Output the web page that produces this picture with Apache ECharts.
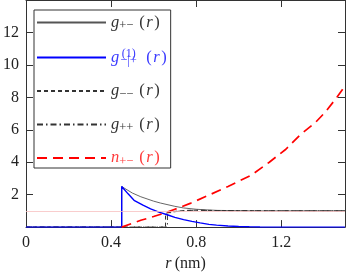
<!DOCTYPE html>
<html><head><meta charset="utf-8">
<script src="https://cdn.jsdelivr.net/npm/echarts@6/dist/echarts.min.js"></script>
<style>html,body{margin:0;padding:0;background:#fff}#c{width:346px;height:277px}</style>
</head><body><div id="c"></div>
<script>
// ---- data ----
const xTickLabels = ['0', '0.4', '0.8', '1.2'];
const yTickLabels = ['2', '4', '6', '8', '10', '12'];
const refLevel = 1;

const gPM_r = [0, 0.45, 0.45, 0.5, 0.54, 0.6, 0.633, 0.7, 0.741, 0.8, 0.85, 0.9, 1.0, 1.1, 1.5];
const gPM_v = [0, 0, 2.5, 2.1, 1.87, 1.6, 1.48, 1.28, 1.18, 1.1, 1.06, 1.03, 1.01, 1.0, 1.0];

const g1_r = [0, 0.45, 0.45, 0.48, 0.508, 0.55, 0.586, 0.625, 0.664, 0.7, 0.741, 0.78, 0.819, 0.86, 0.896, 0.95, 1.0, 1.05, 1.1, 1.2, 1.5];
const g1_v = [0, 0, 2.5, 2.05, 1.65, 1.35, 1.12, 0.92, 0.76, 0.6, 0.46, 0.35, 0.26, 0.17, 0.12, 0.07, 0.04, 0.02, 0.01, 0, 0];

const gMM_r = [0, 0.656, 0.656, 0.7, 0.75, 0.8, 0.9, 1.0, 1.2, 1.5];
const gMM_v = [0, 0, 0.85, 0.97, 1.03, 1.04, 1.02, 1.01, 1.0, 1.0];

const gPP_r = [0, 0.665, 0.665, 0.7, 0.75, 0.8, 0.9, 1.0, 1.2, 1.5];
const gPP_v = [0, 0, 0.85, 0.95, 1.02, 1.04, 1.02, 1.01, 1.0, 1.0];

const nPM_r = [0.45, 0.54, 0.6, 0.656, 0.7, 0.772, 0.865, 0.95, 1.059, 1.144, 1.222, 1.29, 1.361, 1.408, 1.462, 1.5];
const nPM_v = [0, 0.42, 0.65, 0.88, 1.1, 1.46, 2.0, 2.5, 3.2, 4.0, 4.8, 5.7, 6.45, 7.1, 8.0, 8.7];

const zip = (a, b) => a.map((x, i) => [x, b[i]]);

const F = '"Liberation Serif", "DejaVu Serif", serif';
function styles(k, c) {
  const o = {};
  o['m' + k] = {fontFamily: F, fontStyle: 'italic', fontSize: 16.5, color: c, lineHeight: 20};
  o['r' + k] = {fontFamily: F, fontStyle: 'italic', fontSize: 16.5, color: c, lineHeight: 20, padding: [0, 1.5, 0, 1.5]};
  o['p' + k] = {fontFamily: F, fontSize: 16.5, color: c, lineHeight: 20};
  o['q' + k] = {fontFamily: F, fontSize: 16.5, color: c, lineHeight: 20, padding: [0, 0, 0, 6]};
  o['s' + k] = {fontFamily: F, fontSize: 12.5, color: c, lineHeight: 10, verticalAlign: 'bottom'};
  o['t' + k] = {fontFamily: F, fontSize: 12.5, color: c, lineHeight: 8, verticalAlign: 'bottom', width: 20};
  o['u' + k] = {fontFamily: F, fontSize: 12, color: c, lineHeight: 7, verticalAlign: 'top', width: 1};
  return o;
}
const rich = Object.assign({}, styles('k', '#333'), styles('b', '#3a3aff'), styles('r', '#ff3a3a'));
const tail = k => `{q${k}|(}{r${k}|r}{p${k}|)}`;
const labels = {
  'g+-': `{mk|g}{sk|+\u2212}` + tail('k'),
  'g1': `{mb|g}{ub|\u2009(1)}{tb|\u2212|+}` + tail('b'),
  'g--': `{mk|g}{sk|\u2212\u2212}` + tail('k'),
  'g++': `{mk|g}{sk|++}` + tail('k'),
  'n+-': `{mr|n}{sr|+\u2212}` + tail('r')
};

const axisCommon = {
  type: 'value',
  axisLine: {show: true, onZero: false, lineStyle: {color: '#333', width: 1}},
  axisTick: {show: true, inside: true, length: 7, lineStyle: {color: '#333', width: 1}},
  splitLine: {show: false}
};

const chart = echarts.init(document.getElementById('c'), null, {renderer: 'canvas'});
chart.setOption({
  animation: false,
  grid: {left: 24, right: 1, top: 0, bottom: 45},
  legend: {
    show: true, orient: 'vertical', left: 34, top: 10,
    padding: [4, 4, 0, 2], itemWidth: 69, itemHeight: 20, itemGap: 15,
    borderColor: '#333', borderWidth: 1, backgroundColor: '#fff',
    selectedMode: false,
    itemStyle: {opacity: 0},
    data: ['g+-', 'g1', 'g--', 'g++', 'n+-'],
    formatter: n => labels[n],
    textStyle: {rich: rich}
  },
  xAxis: [
    Object.assign({}, axisCommon, {
      position: 'bottom', min: 0, max: 1.5, interval: 0.4,
      axisLabel: {showMaxLabel: false, fontFamily: F, fontSize: 16, color: '#222', margin: 8,
        formatter: (v) => { const i = Math.round(v / 0.4); return Math.abs(v - i * 0.4) < 1e-6 && xTickLabels[i] ? xTickLabels[i] : ''; }},
      name: '{i|r} {u|(nm)}', nameLocation: 'middle', nameGap: 25,
      nameTextStyle: {rich: {i: {fontFamily: F, fontStyle: 'italic', fontSize: 16, color: '#222'}, u: {fontFamily: F, fontSize: 16, color: '#222'}}}
    }),
    Object.assign({}, axisCommon, {position: 'top', min: 0, max: 1.5, interval: 0.4, axisLabel: {show: false}})
  ],
  yAxis: [
    Object.assign({}, axisCommon, {
      position: 'left', min: 0, max: 14, interval: 2,
      axisLabel: {showMinLabel: false, showMaxLabel: false, fontFamily: F, fontSize: 16, color: '#222', margin: 7,
        formatter: (v) => { const i = Math.round(v / 2) - 1; return yTickLabels[i] || ''; }}
    }),
    Object.assign({}, axisCommon, {position: 'right', min: 0, max: 14, interval: 2, axisLabel: {show: false}})
  ],
  series: [
    {name: 'g+-', type: 'line', data: zip(gPM_r, gPM_v), symbol: 'none', silent: true,
      lineStyle: {color: '#555', width: 0.9}, itemStyle: {color: '#555'},
      markLine: {silent: true, symbol: 'none', label: {show: false},
        lineStyle: {color: '#f7c0c0', width: 0.8, type: 'solid'}, data: [{yAxis: refLevel}]}},
    {name: 'g--', type: 'line', data: zip(gMM_r, gMM_v), symbol: 'none', silent: true,
      lineStyle: {color: '#333', width: 1, type: [4, 3]}, itemStyle: {color: '#333'}},
    {name: 'g++', type: 'line', data: zip(gPP_r, gPP_v), symbol: 'none', silent: true,
      lineStyle: {color: '#333', width: 1, type: [6, 3, 1.5, 3]}, itemStyle: {color: '#333'}},
    {name: 'g1', type: 'line', data: zip(g1_r, g1_v), symbol: 'none', silent: true,
      lineStyle: {color: '#0000ff', width: 1.4}, itemStyle: {color: '#0000ff'}},
    {name: 'n+-', type: 'line', data: zip(nPM_r, nPM_v), symbol: 'none', silent: true,
      lineStyle: {color: '#ff0000', width: 1.7, type: [10, 6]}, itemStyle: {color: '#ff0000'}}
  ]
});
</script></body></html>
